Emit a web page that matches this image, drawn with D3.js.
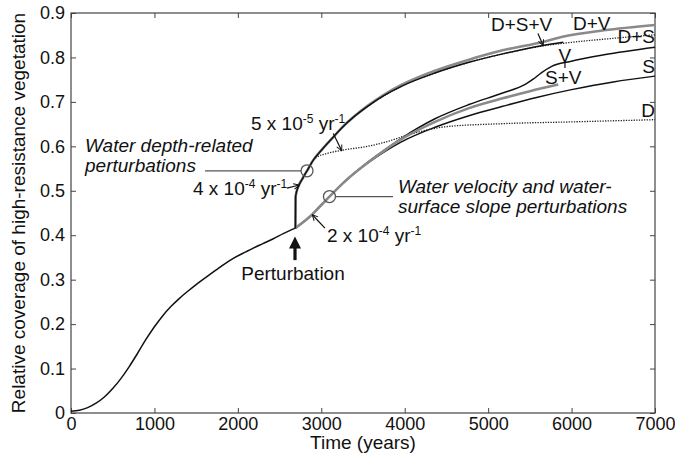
<!DOCTYPE html>
<html>
<head>
<meta charset="utf-8">
<script src="https://cdn.jsdelivr.net/npm/d3@7/dist/d3.min.js"></script>
<style>
  html, body { margin: 0; padding: 0; background: #fff; }
  svg { display: block; }
  text { font-family: "Liberation Sans", Arial, Helvetica, sans-serif; fill: #111; }
</style>
</head>
<body>
<svg id="chart" width="675" height="457"></svg>
<script>
// ---------------- DATA ----------------
const xTickValues = [0, 1000, 2000, 3000, 4000, 5000, 6000, 7000];
const yTickValues = [0, 0.1, 0.2, 0.3, 0.4, 0.5, 0.6, 0.7, 0.8, 0.9];
const xTickLabels = ["0", "1000", "2000", "3000", "4000", "5000", "6000", "7000"];
const yTickLabels = ["0", "0.1", "0.2", "0.3", "0.4", "0.5", "0.6", "0.7", "0.8", "0.9"];

// before the perturbation (t = 0 .. 2690 years)
const baseCurve = [[0,0.004],[100,0.006],[200,0.012],[300,0.022],[400,0.036],[500,0.055],[600,0.078],
  [700,0.105],[800,0.135],[900,0.166],[1000,0.194],[1100,0.219],[1200,0.240],[1300,0.258],[1400,0.274],
  [1500,0.289],[1666,0.312],[1800,0.330],[1945,0.348],[2100,0.363],[2185,0.371],[2300,0.381],[2425,0.392],
  [2550,0.404],[2690,0.416]];

// water depth-related branch
const curveDSV = [[2690,0.416],[2692,0.487],[2724,0.509],[2777,0.528],[2829,0.545],[2904,0.569],[3005,0.592],
  [3150,0.622],[3248,0.642],[3400,0.668],[3555,0.690],[3750,0.714],[3960,0.735],[4363,0.765],[4770,0.789],
  [5174,0.808],[5657,0.827],[5900,0.834]];
const curveDV = [[2690,0.416],[2692,0.487],[2724,0.509],[2777,0.528],[2829,0.545],[2904,0.569],[3005,0.592],
  [3150,0.622],[3248,0.642],[3400,0.668],[3555,0.691],[3750,0.716],[3960,0.738],[4363,0.770],[4770,0.795],
  [5174,0.816],[5657,0.835],[5905,0.847],[6389,0.861],[7000,0.873]];
const curveDS = [[2690,0.416],[2692,0.487],[2724,0.509],[2777,0.528],[2829,0.545],[2904,0.569],[3005,0.592],
  [3150,0.622],[3248,0.642],[3400,0.668],[3555,0.690],[3750,0.714],[3960,0.735],[4363,0.765],[4770,0.789],
  [5174,0.808],[5657,0.826],[6000,0.834],[6500,0.843],[7000,0.851]];
const curveD = [[2690,0.416],[2692,0.487],[2724,0.509],[2777,0.528],[2829,0.545],[2904,0.569],[2960,0.577],
  [3068,0.584],[3272,0.592],[3555,0.600],[3758,0.609],[4081,0.628],[4486,0.644],[5174,0.651],[6000,0.655],[7000,0.660]];

// water velocity / water-surface slope branch
const curveV = [[2690,0.416],[2745,0.424],[2865,0.442],[2980,0.464],[3098,0.487],[3300,0.524],[3555,0.564],
  [3760,0.592],[3960,0.618],[4363,0.662],[4770,0.694],[5174,0.720],[5450,0.740],[5539,0.751],[5641,0.766],
  [5762,0.780],[5985,0.791],[6389,0.806],[7000,0.823]];
const curveSV = [[2690,0.416],[2745,0.424],[2865,0.442],[2980,0.464],[3098,0.487],[3300,0.524],[3555,0.563],
  [3760,0.591],[3960,0.616],[4363,0.655],[4770,0.686],[5174,0.708],[5500,0.724],[5840,0.739]];
const curveS = [[2690,0.416],[2745,0.424],[2865,0.442],[2980,0.464],[3098,0.487],[3300,0.524],[3555,0.562],
  [3760,0.588],[3960,0.610],[4363,0.643],[4770,0.669],[5174,0.690],[5580,0.710],[5985,0.727],[6500,0.745],[7000,0.758]];

// ---------------- LAYOUT ----------------
const W = 675, H = 457;
const plot = { left: 71, right: 655, top: 13, bottom: 413 };
const FS = 19, TFS = 18;
const BLACK = "#111", GRAY = "#8a8a8a", AXIS = "#444";

const svg = d3.select("#chart");
const x = d3.scaleLinear().domain([0, 7000]).range([plot.left, plot.right]);
const y = d3.scaleLinear().domain([0, 0.9]).range([plot.bottom, plot.top]);

// ---------------- AXES (MATLAB-style box, inward ticks on all sides) ----------------
const axB = d3.axisBottom(x).tickValues(xTickValues).tickFormat((d, i) => xTickLabels[i]).tickSize(-5).tickPadding(4);
const axL = d3.axisLeft(y).tickValues(yTickValues).tickFormat((d, i) => yTickLabels[i]).tickSize(-5).tickPadding(6);
const axT = d3.axisTop(x).tickValues(xTickValues).tickFormat("").tickSize(-5);
const axR = d3.axisRight(y).tickValues(yTickValues).tickFormat("").tickSize(-5);

function styleAxis(g) {
  g.select(".domain").remove();
  g.selectAll(".tick line").attr("stroke", AXIS).attr("stroke-width", 1);
  g.selectAll(".tick text").attr("fill", BLACK).style("font-size", TFS + "px")
    .style("font-family", "'Liberation Sans', Arial, sans-serif");
}
svg.append("g").attr("transform", `translate(0,${plot.bottom})`).call(axB).call(styleAxis);
svg.append("g").attr("transform", `translate(${plot.left},0)`).call(axL).call(styleAxis);
svg.append("g").attr("transform", `translate(0,${plot.top})`).call(axT).call(styleAxis);
svg.append("g").attr("transform", `translate(${plot.right},0)`).call(axR).call(styleAxis);

svg.append("rect")
  .attr("x", plot.left).attr("y", plot.top)
  .attr("width", plot.right - plot.left).attr("height", plot.bottom - plot.top)
  .attr("fill", "none").attr("stroke", AXIS).attr("stroke-width", 1.2);

// axis titles
svg.append("text").attr("x", (plot.left + plot.right) / 2).attr("y", 449)
  .attr("text-anchor", "middle").style("font-size", FS + "px").text("Time (years)");
svg.append("text")
  .attr("transform", `translate(25,${(plot.top + plot.bottom) / 2}) rotate(-90)`)
  .attr("text-anchor", "middle").style("font-size", FS + "px")
  .text("Relative coverage of high-resistance vegetation");

// ---------------- CURVES ----------------
const line = d3.line().x(d => x(d[0])).y(d => y(d[1])).curve(d3.curveMonotoneX);
const series = [
  { data: curveD,   color: "#222", width: 1.3, dash: "1.3,1.3" },
  { data: curveDS,  color: "#222", width: 1.3, dash: "1.3,1.3" },
  { data: curveS,   color: BLACK, width: 1.5 },
  { data: curveV,   color: BLACK, width: 1.5 },
  { data: curveSV,  color: GRAY,  width: 2.6 },
  { data: curveDV,  color: GRAY,  width: 2.6 },
  { data: curveDSV, color: BLACK, width: 1.5 },
  { data: baseCurve, color: BLACK, width: 1.5 }
];
svg.append("g").selectAll("path").data(series).join("path")
  .attr("d", s => line(s.data))
  .attr("fill", "none")
  .attr("stroke", s => s.color)
  .attr("stroke-width", s => s.width)
  .attr("stroke-dasharray", s => s.dash || null)
  .attr("stroke-linejoin", "round");

// ---------------- ANNOTATIONS ----------------
const defs = svg.append("defs");
defs.append("marker").attr("id", "openhead").attr("viewBox", "0 0 10 10")
  .attr("refX", 9).attr("refY", 5).attr("markerWidth", 7).attr("markerHeight", 7)
  .attr("markerUnits", "userSpaceOnUse").attr("orient", "auto")
  .append("path").attr("d", "M1,1 L9,5 L1,9").attr("fill", "none").attr("stroke", BLACK).attr("stroke-width", 1.4);

function arrow(t1, v1, t2, v2) {
  svg.append("line").attr("x1", x(t1)).attr("y1", y(v1)).attr("x2", x(t2)).attr("y2", y(v2))
    .attr("stroke", BLACK).attr("stroke-width", 1.2).attr("marker-end", "url(#openhead)");
}
function label(t, v, txt, opts = {}) {
  const el = svg.append("text").attr("x", x(t)).attr("y", y(v))
    .attr("text-anchor", opts.anchor || "start")
    .style("font-size", (opts.size || FS) + "px")
    .style("font-style", opts.italic ? "italic" : "normal")
    .attr("fill", opts.color || BLACK);
  if (opts.parts) {
    opts.parts.forEach(p => {
      const ts = el.append("tspan").text(p.t);
      if (p.sup) ts.style("font-size", "12px").attr("baseline-shift", "7");
    });
  } else el.text(txt);
  return el;
}
function rateLabel(t, v, mant, exp) {
  label(t, v, null, { parts: [{ t: mant + " x 10" }, { t: exp, sup: true }, { t: " yr" }, { t: "-1", sup: true }] });
}

// circles and leaders
const circ1 = [2829, 0.545], circ2 = [3098, 0.487];
svg.append("line").attr("x1", x(1606)).attr("x2", x(circ1[0]) - 6).attr("y1", y(circ1[1])).attr("y2", y(circ1[1]))
  .attr("stroke", "#555").attr("stroke-width", 1.3);
svg.append("line").attr("x1", x(circ2[0]) + 6).attr("x2", x(3860)).attr("y1", y(circ2[1])).attr("y2", y(circ2[1]))
  .attr("stroke", "#555").attr("stroke-width", 1.3);
[circ1, circ2].forEach(c => svg.append("circle").attr("cx", x(c[0])).attr("cy", y(c[1])).attr("r", 6)
  .attr("fill", "none").attr("stroke", "#555").attr("stroke-width", 1.3));

label(168, 0.587, "Water depth-related", { italic: true });
label(168, 0.542, "perturbations", { italic: true });
label(3919, 0.494, "Water velocity and water-", { italic: true });
label(3919, 0.450, "surface slope perturbations", { italic: true });

rateLabel(2157, 0.637, "5", "-5");
arrow(3144, 0.629, 3245, 0.590);
rateLabel(1462, 0.491, "4", "-4");
arrow(2589, 0.506, 2736, 0.513);
rateLabel(3068, 0.385, "2", "-4");
arrow(3044, 0.416, 2892, 0.446);

// perturbation arrow (thick, filled head)
const pt = 2685;
svg.append("line").attr("x1", x(pt)).attr("x2", x(pt)).attr("y1", y(0.344)).attr("y2", y(0.372))
  .attr("stroke", BLACK).attr("stroke-width", 3.2);
svg.append("path")
  .attr("d", `M${x(pt)},${y(0.397)} L${x(pt) - 6},${y(0.370)} L${x(pt) + 6},${y(0.370)} Z`)
  .attr("fill", BLACK);
label(2661, 0.299, "Perturbation", { anchor: "middle" });

// curve labels
label(5034, 0.860, "D+S+V");
arrow(5597, 0.854, 5660, 0.827);
label(6017, 0.862, "D+V", { color: GRAY });
label(7000, 0.833, "D+S", { anchor: "end" });
label(5842, 0.789, "V");
svg.append("line").attr("x1", x(5921)).attr("x2", x(5921)).attr("y1", y(0.792)).attr("y2", y(0.776))
  .attr("stroke", BLACK).attr("stroke-width", 1.2);
label(5681, 0.740, "S+V", { color: GRAY });
label(7000, 0.766, "S", { anchor: "end" });
label(7000, 0.666, "D", { anchor: "end" });
</script>
</body>
</html>
